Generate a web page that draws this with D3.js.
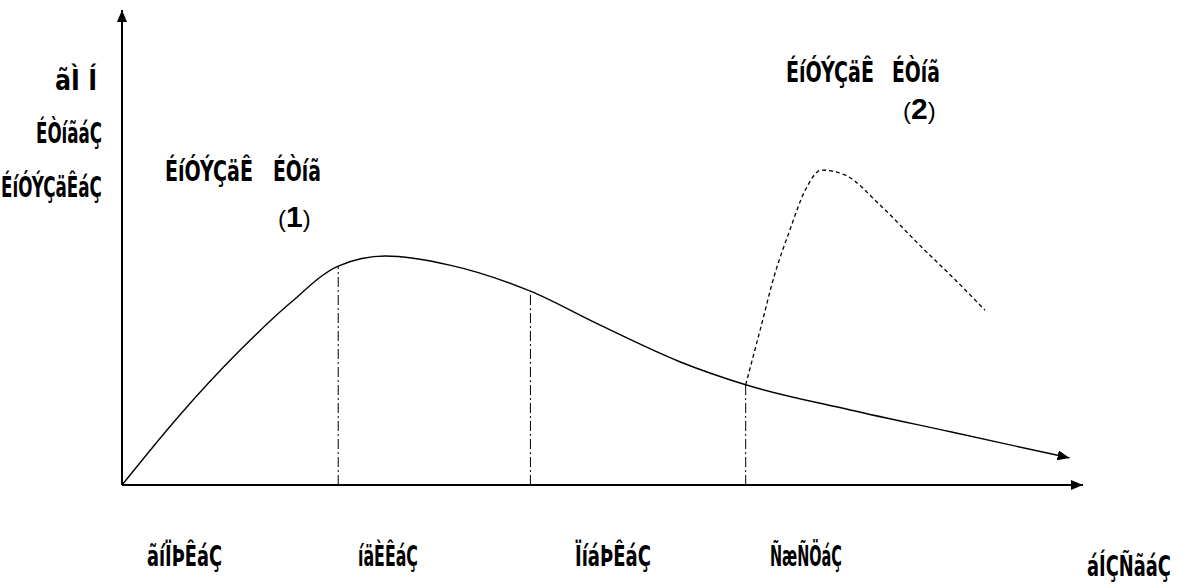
<!DOCTYPE html>
<html><head><meta charset="utf-8">
<script src="https://cdn.jsdelivr.net/npm/d3@7"></script>
<style>
html,body{margin:0;padding:0;background:#fff;}
svg{display:block;}
text{font-family:"Liberation Sans Narrow","DejaVu Sans Condensed",sans-serif;font-weight:bold;fill:#000;}
</style></head>
<body>
<script>
// ---- data ----
const stageLabels = ["ãíÏÞÊáÇ", "íäÈÊáÇ", "ÏíáÞÊáÇ", "ÑæÑÖáÇ"];
const stageBounds = [22.5, 42.5, 64.9];           // x positions of the dash-dot separators
const xAxisTitle = "áÍÇÑãáÇ";
const yAxisTitle = ["ãÌ Í", "ÉÒíãáÇ", "ÉíÓÝÇäÊáÇ"];
const curveLabelWords = ["ÉíÓÝÇäÊ", "ÉÒíã"];
const curveNumbers = ["1", "2"];
// advantage 1 (solid)
const adv1X = [0, 6.0, 12.3, 17.5, 22.5, 27.4, 34.1, 42.5, 49.7, 58.1, 64.9, 75.8, 86.2, 98.6];
const adv1Y = [0, 14.7, 28.4, 38.3, 46.1, 48.2, 46.3, 40.8, 33.7, 25.9, 21.1, 15.8, 11.2, 5.7];
// advantage 2 (dashed)
const adv2X = [64.9, 66.4, 67.9, 69.5, 71.1, 72.8, 75.2, 78.9, 83.0, 86.7, 89.8];
const adv2Y = [21.1, 32.6, 44.2, 53.7, 62.1, 66.3, 65.3, 58.9, 50.5, 43.2, 36.8];

const W = 1199, H = 584;
const svg = d3.select("body").append("svg").attr("width", W).attr("height", H);
const x = d3.scaleLinear().domain([0, 100]).range([122, 1083]);
const y = d3.scaleLinear().domain([0, 100]).range([485, 10]);

const defs = svg.append("defs");
defs.append("marker").attr("id", "arr").attr("viewBox", "0 0 12 10")
  .attr("refX", 12).attr("refY", 5).attr("markerWidth", 12).attr("markerHeight", 10)
  .attr("markerUnits", "userSpaceOnUse").attr("orient", "auto")
  .append("path").attr("d", "M0,0L12,5L0,10Z").attr("fill", "#000");

// axes
svg.append("line").attr("x1", x(0)).attr("y1", y(0)).attr("x2", x(0)).attr("y2", y(100))
  .attr("stroke", "#000").attr("stroke-width", 2).attr("marker-end", "url(#arr)");
svg.append("line").attr("x1", x(0)).attr("y1", y(0)).attr("x2", x(100)).attr("y2", y(0))
  .attr("stroke", "#000").attr("stroke-width", 2).attr("marker-end", "url(#arr)");

const pts1 = adv1X.map((v, i) => [v, adv1Y[i]]);
const pts2 = adv2X.map((v, i) => [v, adv2Y[i]]);
const line = d3.line().x(d => x(d[0])).y(d => y(d[1])).curve(d3.curveMonotoneX);

// separators
function curveYAt(xv) {
  for (let i = 1; i < adv1X.length; i++) if (xv <= adv1X[i]) {
    const t = (xv - adv1X[i-1]) / (adv1X[i] - adv1X[i-1]);
    return adv1Y[i-1] + t * (adv1Y[i] - adv1Y[i-1]);
  }
  return 0;
}
svg.selectAll(".sep").data(stageBounds).enter().append("line")
  .attr("x1", d => x(d)).attr("x2", d => x(d))
  .attr("y1", y(0)).attr("y2", d => y(curveYAt(d)))
  .attr("stroke", "#000").attr("stroke-width", 1).attr("stroke-dasharray", "10,3,2,3");

svg.append("path").attr("d", line(pts1)).attr("fill", "none").attr("stroke", "#000")
  .attr("stroke-width", 1.4).attr("marker-end", "url(#arr)");
svg.append("path").attr("d", line(pts2)).attr("fill", "none").attr("stroke", "#000")
  .attr("stroke-width", 1.3).attr("stroke-dasharray", "4,3");

const FS = 29;
// text squeezed horizontally to the width it takes in the reference
function txt(s, xx, yy, w, size) {
  const t = svg.append("text").attr("x", 0).attr("y", 0).attr("font-size", size).text(s);
  const nat = t.node().getComputedTextLength();
  const sx = Math.min(1, w / nat);
  t.attr("transform", `translate(${xx},${yy}) scale(${sx},1)`);
  return t;
}
// y axis title
txt(yAxisTitle[0], 55, 90, 42, FS);
txt(yAxisTitle[1], 36, 143, 66, FS);
txt(yAxisTitle[2], 1, 197, 101, FS);
// curve labels
function num(n, xx, yy) {
  const t = svg.append("text").attr("x", xx).attr("y", yy).attr("font-size", 24);
  t.append("tspan").attr("font-weight", "normal").attr("font-family", "Liberation Sans, sans-serif").text("(");
  t.append("tspan").attr("font-size", 30).attr("font-family", "Liberation Sans, sans-serif").text(n);
  t.append("tspan").attr("font-weight", "normal").attr("font-family", "Liberation Sans, sans-serif").text(")");
}
txt(curveLabelWords[0], 165, 181, 88, FS);
txt(curveLabelWords[1], 273, 181, 48, FS);
num(curveNumbers[0], 278, 227);
txt(curveLabelWords[0], 786, 82, 88, FS);
txt(curveLabelWords[1], 892, 82, 48, FS);
num(curveNumbers[1], 903, 119);
// stage labels
const stageX = [147, 358, 575, 770];
const stageW = [75, 60, 76, 72];
stageLabels.forEach((s, i) => txt(s, stageX[i], 566, stageW[i], FS));
txt(xAxisTitle, 1087, 576, 84, FS);
</script>
</body></html>
